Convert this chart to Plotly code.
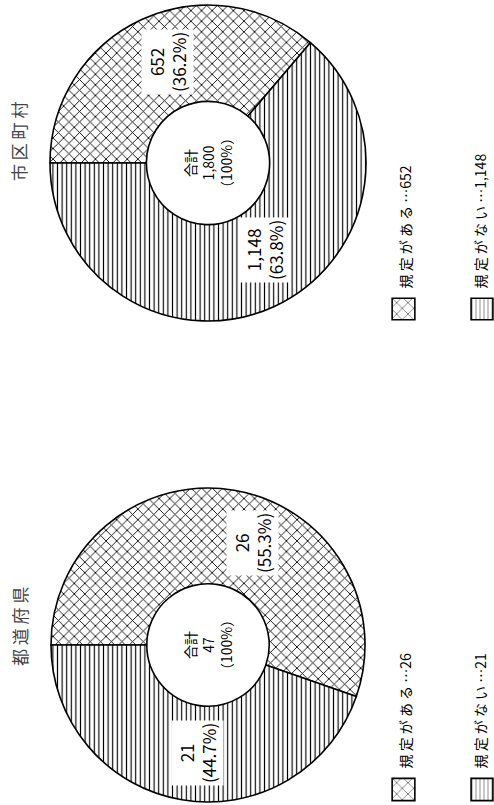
import plotly.graph_objects as go

categories = ["規定がある", "規定がない"]
groups = ["市区町村", "都道府県"]
muni_values = [652, 1148]
pref_values = [26, 21]
values_by_group = [muni_values, pref_values]

FONT = "Noto Sans CJK JP"
W, H = 494, 805

def fx(px):
    return px / W

def fy(py):
    return 1 - py / H

def fmt(v):
    return f"{v:,}"

def pct(v, total):
    return f"({v / total * 100:.1f}%)"

fig = go.Figure()

# pie geometry in pixels (center x, center y, radius)
geo = [(208, 163, 158), (208, 645, 157)]
label_pos = [[(168, 62), (265, 250)], [(252, 543), (197, 753)]]
title_pos = [(19, 142), (19, 627)]
legend_y = [(297, 321), (777, 802)]

patterns = ["x", "|"]

def ann(x, y, text, size, color="black", **kw):
    fig.add_annotation(x=fx(x), y=fy(y), xref="paper", yref="paper", text=text,
                       textangle=-90, showarrow=False,
                       xanchor=kw.pop("xanchor", "center"), yanchor=kw.pop("yanchor", "middle"),
                       font=dict(family=FONT, size=size, color=color), **kw)

for gi, (g, vals) in enumerate(zip(groups, values_by_group)):
    cx, cy, r = geo[gi]
    fig.add_trace(go.Pie(
        labels=categories, values=vals, hole=0.39, sort=False,
        direction="clockwise", rotation=-90, textinfo="none",
        hoverinfo="skip", showlegend=False,
        marker=dict(colors=["white", "white"],
                    line=dict(color="black", width=1.6),
                    pattern=dict(shape=patterns, fgcolor="black", bgcolor="white",
                                 size=[7.5, 4.6], solidity=[0.22, 0.25])),
        domain=dict(x=[fx(cx - r), fx(cx + r)], y=[fy(cy + r), fy(cy - r)]),
    ))
    total = sum(vals)
    # slice labels
    for ci, v in enumerate(vals):
        lx, ly = label_pos[gi][ci]
        ann(lx, ly, f"{fmt(v)}<br>{pct(v, total)}", 17, bgcolor="white", borderpad=2)
    # center label
    ann(cx, cy, f"合計<br>{fmt(total)}<br>（100%）", 14)
    # title
    tx, ty = title_pos[gi]
    ann(tx, ty, " ".join(g), 17, color="#444")
    # legend swatches + texts
    y0, y1 = legend_y[gi]
    for ci, cat in enumerate(categories):
        x0 = 391 + ci * 79
        x1 = min(x0 + 25, W)
        k = gi * 2 + ci + 1
        xa = "xaxis" if k == 1 else f"xaxis{k}"
        ya = "yaxis" if k == 1 else f"yaxis{k}"
        fig.add_trace(go.Bar(
            x=[0], y=[1], width=[1], showlegend=False, hoverinfo="skip",
            xaxis=xa.replace("axis", ""), yaxis=ya.replace("axis", ""),
            marker=dict(color="white", line=dict(color="black", width=1.6),
                        pattern=dict(shape=patterns[ci], fgcolor="black", bgcolor="white",
                                     size=[8, 4][ci], solidity=0.22)),
        ))
        fig.layout[xa] = dict(domain=[fx(x0), fx(x1)], range=[-0.55, 0.55], visible=False,
                              anchor=ya.replace("axis", ""), fixedrange=True)
        fig.layout[ya] = dict(domain=[fy(y1), fy(y0)], range=[-0.06, 1.06], visible=False,
                              anchor=xa.replace("axis", ""), fixedrange=True)
        tx_leg = 404 if ci == 0 else 479
        ann(tx_leg, y0 - 6, " ".join(cat) + " …" + fmt(vals[ci]), 14,
            xanchor="center", yanchor="bottom")

fig.update_layout(width=W, height=H, margin=dict(l=0, r=0, t=0, b=0),
                  paper_bgcolor="white", plot_bgcolor="white")

fig.write_html("out.html", config={"displayModeBar": False},
               post_script="document.body.style.margin='0';")
